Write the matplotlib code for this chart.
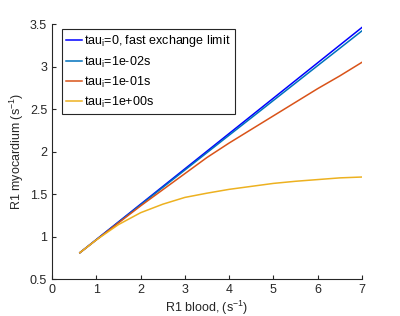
import numpy as np
import matplotlib
matplotlib.use('Agg')
import matplotlib.pyplot as plt

plt.rcParams['font.family'] = ['Liberation Sans', 'DejaVu Sans']
plt.rcParams['mathtext.fontset'] = 'custom'
plt.rcParams['mathtext.rm'] = 'Liberation Sans'
plt.rcParams['mathtext.it'] = 'Liberation Sans'

# R1 blood (s^-1)
r1_blood = [0.63, 1.0, 1.5, 2.0, 2.5, 3.0, 3.5, 4.0, 4.5, 5.0, 5.5, 6.0, 6.5, 7.0]

# R1 myocardium for each tau_i
r1_fast = [0.81, 0.964, 1.172, 1.38, 1.588, 1.796, 2.004, 2.212, 2.42, 2.628, 2.836, 3.044, 3.252, 3.46]
r1_1e2 = [0.81, 0.962, 1.167, 1.372, 1.577, 1.782, 1.987, 2.192, 2.396, 2.601, 2.806, 3.011, 3.215, 3.42]
r1_1e1 = [0.81, 0.96, 1.16, 1.36, 1.55, 1.74, 1.93, 2.10, 2.26, 2.42, 2.58, 2.74, 2.89, 3.05]
r1_1e0 = [0.81, 0.96, 1.14, 1.28, 1.38, 1.46, 1.51, 1.555, 1.59, 1.625, 1.65, 1.67, 1.69, 1.70]

labels = ['tau$_\\mathregular{i}$=0, fast exchange limit',
          'tau$_\\mathregular{i}$=1e-02s',
          'tau$_\\mathregular{i}$=1e-01s',
          'tau$_\\mathregular{i}$=1e+00s']
colors = ['#0000ff', '#0072bd', '#d95319', '#edb120']

fig = plt.figure(figsize=(4, 3.16), dpi=100)
ax = fig.add_axes([0.13, 0.117, 0.775, 0.807])

for ys, lab, c in zip([r1_fast, r1_1e2, r1_1e1, r1_1e0], labels, colors):
    ax.plot(r1_blood, ys, color=c, lw=1.1, label=lab)

ax.set_xlim(0, 7)
ax.set_ylim(0.5, 3.5)
ax.set_xticks(range(0, 8))
ax.set_yticks([0.5, 1, 1.5, 2, 2.5, 3, 3.5])
ax.set_yticklabels(['0.5', '1', '1.5', '2', '2.5', '3', '3.5'])

ax.spines['top'].set_visible(False)
ax.spines['right'].set_visible(False)
for s in ['left', 'bottom']:
    ax.spines[s].set_color('#262626')
    ax.spines[s].set_linewidth(0.8)
ax.tick_params(direction='in', length=3, width=0.8, colors='#262626', labelsize=9)

ax.set_xlabel('R1 blood, (s$^{-1}$)', fontsize=9, color='#262626', labelpad=2)
ax.set_ylabel('R1 myocardium (s$^{-1}$)', fontsize=9, color='#262626', labelpad=3)

leg = ax.legend(loc='upper left', fontsize=9, handlelength=1.25, handletextpad=0.2,
                labelspacing=0.4, borderpad=0.35, borderaxespad=0, fancybox=False,
                framealpha=1, bbox_to_anchor=(0.032, 0.98))
leg.get_frame().set_edgecolor('#262626')
leg.get_frame().set_linewidth(0.8)

fig.savefig('out.png', dpi=100)
